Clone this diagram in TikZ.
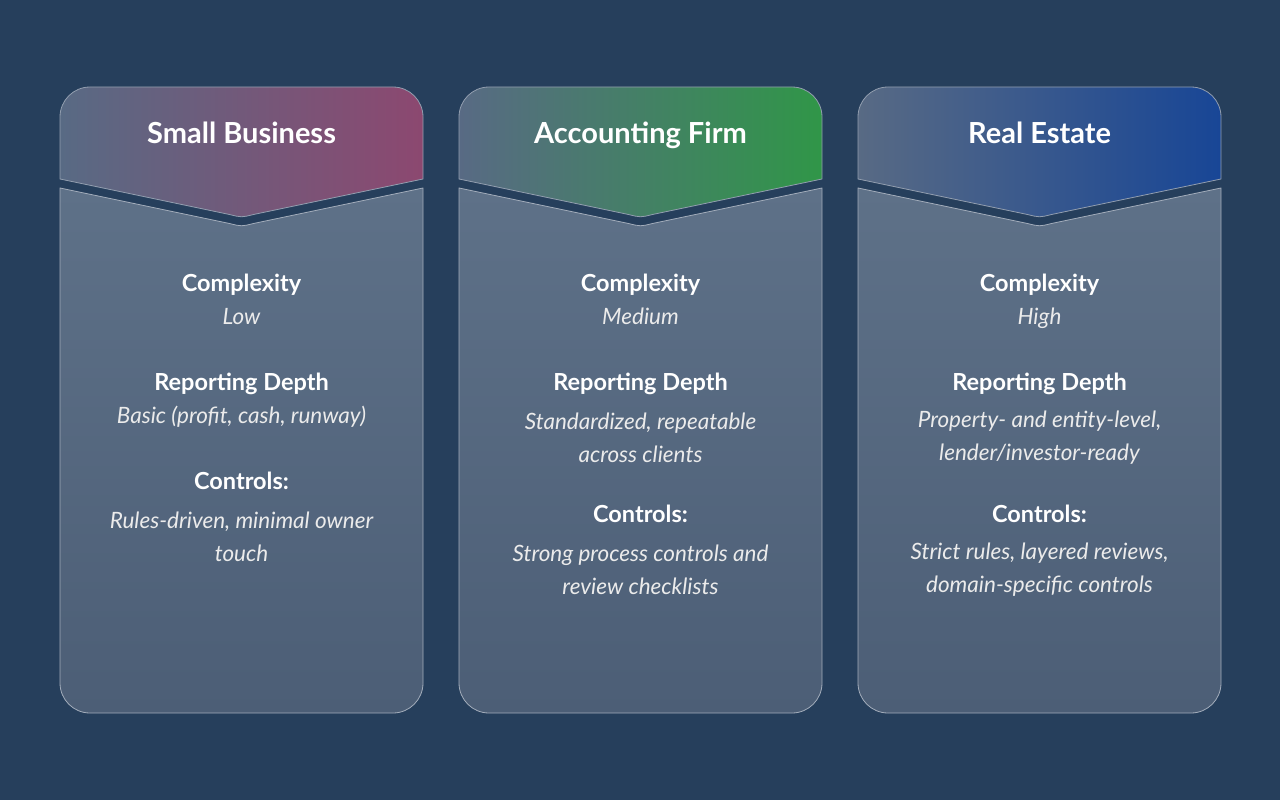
\documentclass[tikz,border=0pt]{standalone}
\usepackage{fontspec}
\setmainfont{Lato}
\begin{document}
\begin{tikzpicture}[x=1pt,y=-1pt,
  hd/.style={text=white,font=\fontsize{23.5}{26}\selectfont\bfseries,text height=0.72em,text depth=0.22em},
  vl/.style={text=white!92!black,font=\fontsize{22.5}{33}\selectfont\itshape,align=center},
  vs/.style={vl,text height=0.72em,text depth=0.22em},
  ttl/.style={text=white,font=\fontsize{29}{32}\selectfont\bfseries,text height=0.72em,text depth=0.22em}]
\fill[fill={rgb,255:red,38;green,63;blue,92}] (0,0) rectangle (1280,800);
\useasboundingbox (0,0) rectangle (1280,800);
\definecolor{hbase}{RGB}{88,106,132}
\definecolor{c1}{RGB}{140,72,112}
\definecolor{c2}{RGB}{48,150,72}
\definecolor{c3}{RGB}{24,70,150}
\definecolor{btop}{RGB}{94,113,136}
\definecolor{bbot}{RGB}{76,94,118}
\foreach \x/\c/\n in {60/c1/a,459/c2/b,858/c3/c}{
  \pgfmathsetmacro\m{\x+181.5}
  \pgfmathsetmacro\r{\x+363}
  % body
  \draw[draw=white!45!hbase,line width=0.8pt,top color=btop,bottom color=bbot]
    (\x,188) -- (\m-12,223.5) .. controls (\m,226.5) .. (\m+12,223.5) -- (\r,188)
    [rounded corners=30] -- (\r,713) -- (\x,713) [sharp corners] -- cycle;
  % header
  \draw[draw=white!35!hbase,line width=0.8pt,shading=axis,shading angle=60,left color=hbase,right color=\c]
    (\x,179) [rounded corners=30] -- (\x,87) -- (\r,87) [sharp corners] -- (\r,179)
    -- (\m+12,214.5) .. controls (\m,217.5) .. (\m-12,214.5) -- cycle;
}
\node[ttl] (t1) at (241.5,141) {Small Business};
\node[ttl] (t2) at (640.5,141) {Accounting Firm};
\node[ttl] (t3) at (1039.5,141) {Real Estate};
% card 1
\node[hd] (a1) at (241.5,289) {Complexity};
\node[vs] (a2) at (241.5,322) {Low};
\node[hd] (a3) at (241.5,388) {Reporting Depth};
\node[vs] (a4) at (241.5,421) {Basic (profit, cash, runway)};
\node[hd] (a5) at (241.5,487) {Controls:};
\node[vl] (a6) at (241.5,536.5) {Rules-driven, minimal owner\\touch};
% card 2
\node[hd] (b1) at (640.5,289) {Complexity};
\node[vs] (b2) at (640.5,322) {Medium};
\node[hd] (b3) at (640.5,388) {Reporting Depth};
\node[vl] (b4) at (640.5,437.5) {Standardized, repeatable\\across clients};
\node[hd] (b5) at (640.5,520) {Controls:};
\node[vl] (b6) at (640.5,569.5) {Strong process controls and\\review checklists};
% card 3
\node[hd] (c1n) at (1039.5,289) {Complexity};
\node[vs] (c2n) at (1039.5,322) {High};
\node[hd] (c3n) at (1039.5,388) {Reporting Depth};
\node[vl] (c4n) at (1039.5,437.5) {Property- and entity-level,\\lender/investor-ready};
\node[hd] (c5n) at (1039.5,520) {Controls:};
\node[vl] (c6n) at (1039.5,569.5) {Strict rules, layered reviews,\\domain-specific controls};
\end{tikzpicture}
\end{document}
